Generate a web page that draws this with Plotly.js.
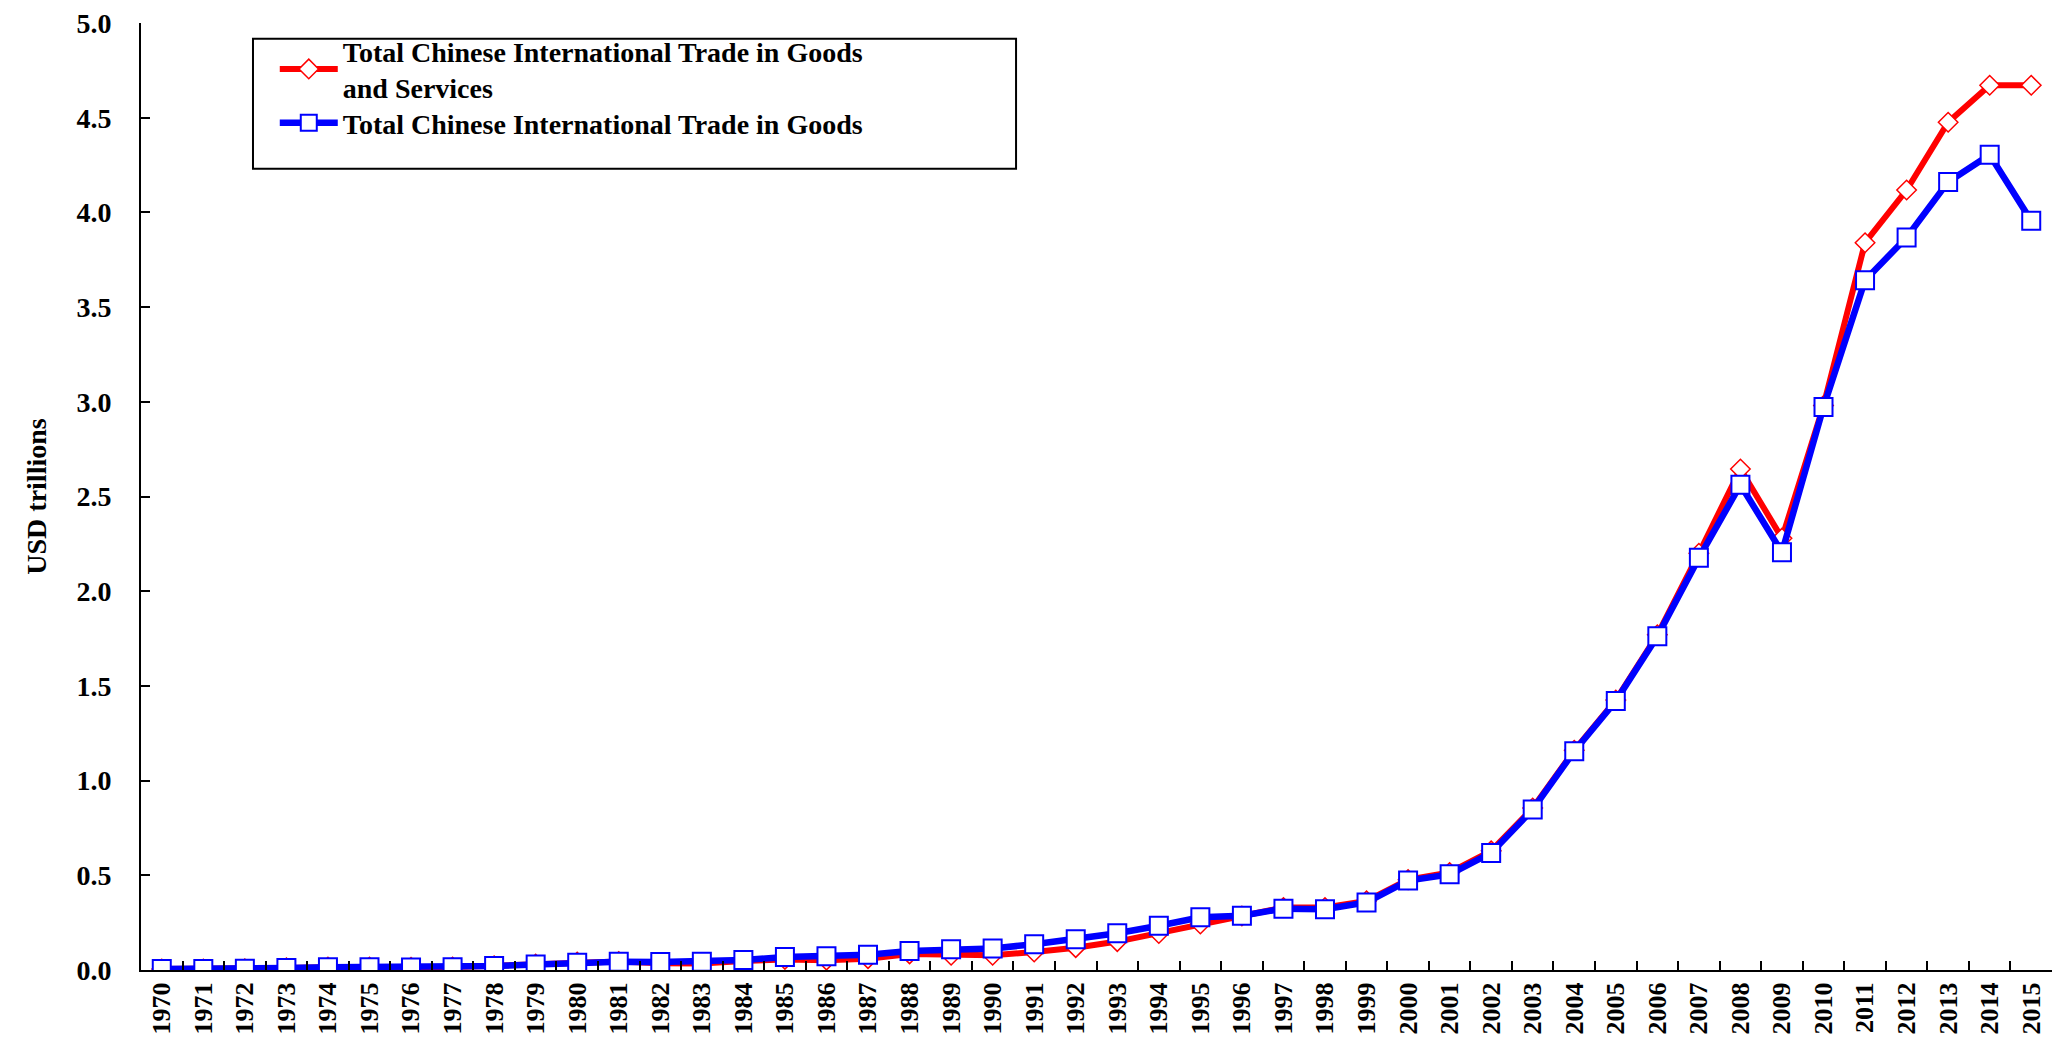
<!DOCTYPE html>
<html>
<head>
<meta charset="utf-8">
<script src="https://cdn.plot.ly/plotly-3.0.1.min.js"></script>
<style>
html,body{margin:0;padding:0;background:#fff;}
#chart{width:2053px;height:1048px;}
</style>
</head>
<body>
<div id="chart"></div>
<script>
const years = ["1970","1971","1972","1973","1974","1975","1976","1977","1978","1979",
  "1980","1981","1982","1983","1984","1985","1986","1987","1988","1989",
  "1990","1991","1992","1993","1994","1995","1996","1997","1998","1999",
  "2000","2001","2002","2003","2004","2005","2006","2007","2008","2009",
  "2010","2011","2012","2013","2014","2015"];

const goodsAndServices = [0.005,0.005,0.006,0.011,0.015,0.015,0.014,0.016,0.022,0.031,
  0.042,0.045,0.036,0.034,0.047,0.056,0.052,0.060,0.085,0.078,
  0.078,0.095,0.118,0.150,0.193,0.243,0.285,0.330,0.330,0.365,
  0.477,0.515,0.629,0.855,1.160,1.425,1.770,2.200,2.645,2.280,
  2.980,3.840,4.118,4.476,4.671,4.671];

const goodsOnly = [0.005,0.005,0.006,0.011,0.015,0.015,0.013,0.015,0.021,0.029,
  0.038,0.044,0.042,0.044,0.053,0.068,0.072,0.080,0.100,0.110,
  0.114,0.136,0.162,0.194,0.234,0.278,0.287,0.324,0.321,0.357,
  0.472,0.505,0.618,0.848,1.155,1.420,1.762,2.176,2.562,2.205,
  2.973,3.642,3.868,4.161,4.304,3.956];

const seriesNames = ["Total Chinese International Trade in Goods<br>and Services",
  "Total Chinese International Trade in Goods"];
const yTitle = "USD trillions";
const yTicks = [0,0.5,1,1.5,2,2.5,3,3.5,4,4.5,5];

const FONT = "Liberation Serif, Times New Roman, serif";
const legendFont = {family: FONT, size: 28, color: "#000", weight: "bold"};

const traces = [
  {
    type: "scatter", mode: "lines+markers", name: seriesNames[0],
    x: years, y: goodsAndServices, legend: "legend",
    line: {color: "#ff0000", width: 6},
    marker: {symbol: "diamond", size: 15, color: "#ffffff", line: {color: "#ff0000", width: 1.5}}
  },
  {
    type: "scatter", mode: "lines+markers", name: seriesNames[1],
    x: years, y: goodsOnly, legend: "legend2",
    line: {color: "#0000ff", width: 6.5},
    marker: {symbol: "square", size: 18, color: "#ffffff", line: {color: "#0000ff", width: 2}}
  }
];

const layout = {
  width: 2053, height: 1048,
  paper_bgcolor: "#ffffff", plot_bgcolor: "#ffffff",
  margin: {l: 141, r: 1, t: 23, b: 78, pad: 0},
  font: {family: FONT, color: "#000", size: 27},
  showlegend: true,
  legend: {
    x: 0.070, y: 0.9968, xanchor: "left", yanchor: "top",
    bgcolor: "rgba(0,0,0,0)", borderwidth: 0,
    font: legendFont, itemwidth: 58
  },
  legend2: {
    x: 0.070, y: 0.9207, xanchor: "left", yanchor: "top",
    bgcolor: "rgba(0,0,0,0)", borderwidth: 0,
    font: legendFont, itemwidth: 58
  },
  xaxis: {
    type: "category", range: [-0.5, years.length - 0.5],
    showline: true, linecolor: "#000", linewidth: 2, mirror: false,
    showgrid: false, zeroline: false,
    ticks: "inside", ticklen: 9, tickwidth: 2, tickcolor: "#000",
    tickson: "boundaries",
    tickangle: -90,
    ticklabelstandoff: 0,
    tickfont: {family: FONT, size: 26, color: "#000", weight: "bold"},
    automargin: false
  },
  yaxis: {
    range: [0, 5],
    tickvals: yTicks, tickformat: ".1f",
    showline: true, linecolor: "#000", linewidth: 2,
    showgrid: false, zeroline: false,
    ticks: "inside", ticklen: 9, tickwidth: 2, tickcolor: "#000",
    ticklabelstandoff: 22,
    tickfont: {family: FONT, size: 28, color: "#000", weight: "bold"},
    title: {text: yTitle, standoff: 22, font: {family: FONT, size: 28, color: "#000", weight: "bold"}},
    automargin: false
  },
  shapes: [
    {type: "rect", xref: "paper", yref: "paper",
     x0: 0.0586, x1: 0.4579, y0: 0.8461, y1: 0.9834,
     line: {color: "#000", width: 2}, fillcolor: "rgba(0,0,0,0)"}
  ]
};

Plotly.newPlot("chart", traces, layout, {displayModeBar: false, staticPlot: true});
</script>
</body>
</html>
